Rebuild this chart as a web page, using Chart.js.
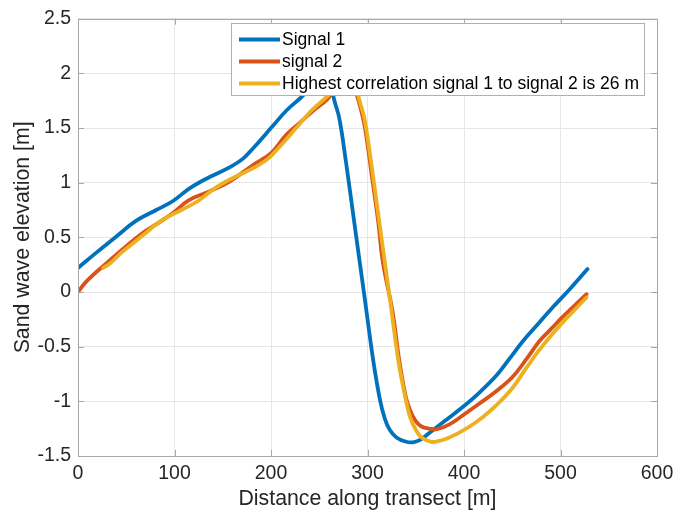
<!DOCTYPE html>
<html>
<head>
<meta charset="utf-8">
<title>Sand wave signals</title>
<script src="https://cdn.jsdelivr.net/npm/chart.js@4/dist/chart.umd.min.js"></script>
<style>
  html, body { margin: 0; padding: 0; background: #fff; }
  #wrap { width: 691px; height: 514px; }
</style>
</head>
<body>
<div id="wrap"><canvas id="chart"></canvas></div>
<script>
// --- data ---
const signal1X = [0, 19, 40, 60, 81, 98, 116, 136, 157, 171, 182, 202, 216, 230, 242, 251, 257, 262, 266, 271,
                  278, 285, 292, 299, 306, 313, 318, 323, 330, 340, 347, 354, 364, 380, 399, 416, 434, 448, 461,
                  476, 492, 510, 528];
const signal1Y = [0.22, 0.36, 0.51, 0.65, 0.75, 0.83, 0.95, 1.05, 1.14, 1.22, 1.32, 1.52, 1.66, 1.77, 1.87, 1.93,
                  1.94, 1.87, 1.74, 1.58, 1.17, 0.72, 0.27, -0.18, -0.63, -0.99, -1.16, -1.26, -1.33, -1.37,
                  -1.375, -1.355, -1.29, -1.18, -1.05, -0.92, -0.76, -0.60, -0.45, -0.30, -0.14, 0.03, 0.21];

const signal2X = [0, 9, 29, 50, 67, 83, 98, 115, 136, 157, 181, 200, 216, 230, 244, 258, 268, 276, 282, 287, 291,
                  297, 305, 311, 316, 326, 333, 340, 345, 350, 356, 364, 372, 385, 400, 416, 433, 450, 465, 478,
                  490, 502, 515, 527];
const signal2Y = [0.00, 0.10, 0.26, 0.42, 0.54, 0.63, 0.72, 0.84, 0.92, 1.01, 1.16, 1.27, 1.44, 1.55, 1.66, 1.76,
                  1.87, 1.93, 1.93, 1.85, 1.74, 1.52, 1.03, 0.65, 0.27, -0.18, -0.63, -0.97, -1.10, -1.18, -1.23,
                  -1.25, -1.255, -1.21, -1.12, -1.02, -0.91, -0.78, -0.61, -0.45, -0.34, -0.23, -0.12, -0.02];

const shiftedX = [26, 33, 45, 66, 86, 107, 124, 142, 162, 183, 197, 208, 228, 242, 256, 268, 277, 283, 288, 292,
                  297, 304, 311, 318, 325, 332, 337, 344, 350, 356, 366, 373, 381, 392, 405, 420, 433, 450, 465,
                  478, 490, 502, 515, 527];
const shiftedY = [0.22, 0.26, 0.36, 0.51, 0.65, 0.75, 0.83, 0.95, 1.05, 1.14, 1.22, 1.32, 1.52, 1.66, 1.77, 1.87,
                  1.93, 1.94, 1.87, 1.74, 1.58, 1.17, 0.72, 0.27, -0.18, -0.63, -0.87, -1.14, -1.26, -1.33, -1.37,
                  -1.365, -1.345, -1.30, -1.235, -1.14, -1.04, -0.88, -0.69, -0.53, -0.40, -0.28, -0.16, -0.05];

const seriesLabels = ['Signal 1', 'signal 2', 'Highest correlation signal 1 to signal 2 is 26 m'];
const seriesColors = ['#0072BD', '#D95319', '#EDB120'];

const xTicks = [0, 100, 200, 300, 400, 500, 600];
const xTickLabels = ['0', '100', '200', '300', '400', '500', '600'];
const yTicks = [-1.5, -1, -0.5, 0, 0.5, 1, 1.5, 2, 2.5];
const yTickLabels = ['-1.5', '-1', '-0.5', '0', '0.5', '1', '1.5', '2', '2.5'];

const FONT = "'Liberation Sans', Arial, Helvetica, sans-serif";

const toPoints = (xs, ys) => xs.map((x, i) => ({ x, y: ys[i] }));

// box round the axes with inward ticks, like matlab
const axesBox = {
  id: 'axesBox',
  afterDatasetsDraw(chart) {
    const { ctx, chartArea: a, scales: { x, y } } = chart;
    const L = 6;
    ctx.save();
    ctx.strokeStyle = '#a8a8a8';
    ctx.lineWidth = 1;
    ctx.beginPath();
    xTicks.forEach(v => {
      const px = Math.round(x.getPixelForValue(v)) + 0.5;
      ctx.moveTo(px, a.bottom); ctx.lineTo(px, a.bottom - L);
      ctx.moveTo(px, a.top);    ctx.lineTo(px, a.top + L);
    });
    yTicks.forEach(v => {
      const py = Math.round(y.getPixelForValue(v)) + 0.5;
      ctx.moveTo(a.left, py);  ctx.lineTo(a.left + L, py);
      ctx.moveTo(a.right, py); ctx.lineTo(a.right - L, py);
    });
    ctx.stroke();
    ctx.strokeRect(Math.round(a.left) + 0.5, Math.round(a.top) + 0.5,
                   Math.round(a.right - a.left), Math.round(a.bottom - a.top));
    ctx.restore();
  }
};

// legend box drawn over the lines (opaque, as in the original)
const boxLegend = {
  id: 'boxLegend',
  afterDatasetsDraw(chart, args, o) {
    const ctx = chart.ctx;
    ctx.save();
    ctx.fillStyle = '#fff';
    ctx.fillRect(o.left, o.top, o.width, o.height);
    ctx.strokeStyle = '#b0b0b0';
    ctx.lineWidth = 1;
    ctx.strokeRect(o.left + 0.5, o.top + 0.5, o.width, o.height);
    ctx.font = o.fontSize + 'px ' + FONT;
    ctx.textBaseline = 'middle';
    ctx.fillStyle = '#000';
    chart.data.datasets.forEach((ds, i) => {
      const cy = o.top + o.firstRow + i * o.rowGap;
      ctx.strokeStyle = ds.borderColor;
      ctx.lineWidth = ds.borderWidth;
      ctx.beginPath();
      ctx.moveTo(o.left + o.lineStart, cy);
      ctx.lineTo(o.left + o.lineEnd, cy);
      ctx.stroke();
      ctx.fillText(ds.label, o.left + o.textStart, cy + 1);
    });
    ctx.restore();
  }
};

const makeSet = (i, xs, ys, order) => ({
  label: seriesLabels[i],
  data: toPoints(xs, ys),
  borderColor: seriesColors[i],
  backgroundColor: seriesColors[i],
  borderWidth: 3.8,
  borderCapStyle: 'round',
  borderJoinStyle: 'round',
  pointRadius: 0,
  tension: 0.4,
  showLine: true,
  fill: false,
  order,
});

new Chart(document.getElementById('chart'), {
  type: 'scatter',
  data: {
    datasets: [
      makeSet(0, signal1X, signal1Y, 2),
      makeSet(1, signal2X, signal2Y, 1),
      makeSet(2, shiftedX, shiftedY, 0),
    ],
  },
  options: {
    responsive: true,
    maintainAspectRatio: false,
    animation: false,
    layout: { padding: { left: 0, right: 34, top: 12.5, bottom: 0 } },
    plugins: {
      legend: { display: false },
      tooltip: { enabled: false },
      boxLegend: {
        left: 231, top: 23, width: 413, height: 72,
        firstRow: 16.5, rowGap: 22,
        lineStart: 8, lineEnd: 49, textStart: 51,
        fontSize: 17.5,
      },
    },
    scales: {
      x: {
        type: 'linear',
        min: 0, max: 600,
        afterBuildTicks: s => { s.ticks = xTicks.map(v => ({ value: v })); },
        afterFit: s => { s.height = 58; },
        ticks: {
          callback: (v, i) => xTickLabels[i],
          font: { family: FONT, size: 19.5 },
          color: '#262626',
          padding: 6,
          maxRotation: 0,
        },
        grid: { color: '#e6e6e6', drawTicks: false },
        border: { display: false },
        title: {
          display: true,
          text: 'Distance along transect [m]',
          font: { family: FONT, size: 21.3 },
          color: '#262626',
          padding: { top: 0, bottom: 2 },
        },
      },
      y: {
        type: 'linear',
        min: -1.5, max: 2.5,
        afterBuildTicks: s => { s.ticks = yTicks.map(v => ({ value: v })); },
        afterFit: s => { s.width = 78; },
        ticks: {
          callback: (v, i) => yTickLabels[i],
          font: { family: FONT, size: 19.5 },
          color: '#262626',
          padding: 7,
        },
        grid: { color: '#e6e6e6', drawTicks: false },
        border: { display: false },
        title: {
          display: true,
          text: 'Sand wave elevation [m]',
          font: { family: FONT, size: 21.3 },
          color: '#262626',
          padding: { top: 10, bottom: 0 },
        },
      },
    },
  },
  plugins: [axesBox, boxLegend],
});
</script>
</body>
</html>
